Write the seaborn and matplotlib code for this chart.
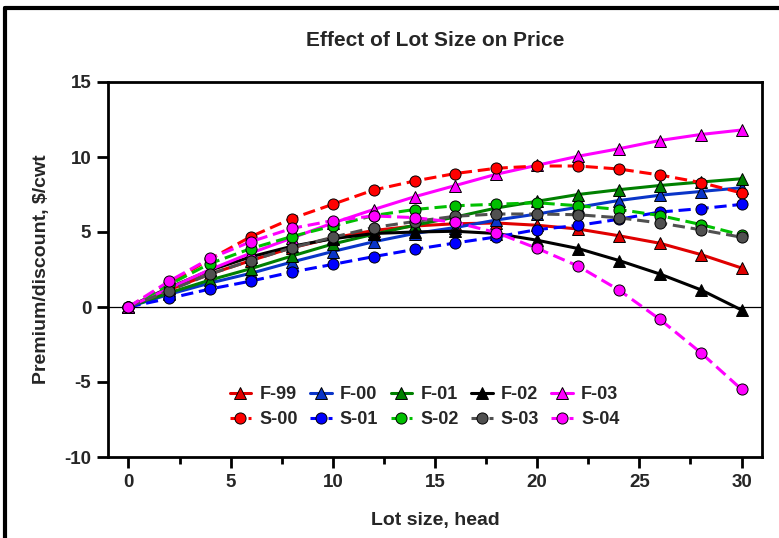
import numpy as np
import pandas as pd
import seaborn as sns
import matplotlib.pyplot as plt
from matplotlib.lines import Line2D

# lot size, head
lot = [0, 2, 4, 6, 8, 10, 12, 14, 16, 18, 20, 22, 24, 26, 28, 30]

# premium/discount, $/cwt
f99 = [0, 1.15, 2.2, 3.1, 3.95, 4.6, 5.1, 5.4, 5.55, 5.6, 5.45, 5.2, 4.75, 4.25, 3.5, 2.6]
f00 = [0, 0.85, 1.6, 2.25, 3.0, 3.7, 4.35, 4.9, 5.3, 5.8, 6.2, 6.65, 7.1, 7.45, 7.7, 7.95]
f01 = [0, 0.95, 1.8, 2.56, 3.4, 4.2, 4.85, 5.45, 6.0, 6.6, 7.05, 7.5, 7.82, 8.1, 8.33, 8.55]
f02 = [0, 1.3, 2.45, 3.35, 4.05, 4.55, 4.9, 5.0, 5.05, 4.9, 4.45, 3.9, 3.1, 2.2, 1.15, -0.2]
f03 = [0, 1.25, 2.5, 3.6, 4.6, 5.6, 6.5, 7.35, 8.1, 8.85, 9.45, 10.05, 10.55, 11.1, 11.5, 11.8]
s00 = [0, 1.6, 3.2, 4.7, 5.9, 6.85, 7.8, 8.4, 8.9, 9.25, 9.4, 9.4, 9.2, 8.8, 8.3, 7.6]
s01 = [0, 0.58, 1.2, 1.73, 2.33, 2.84, 3.36, 3.84, 4.27, 4.67, 5.16, 5.44, 5.85, 6.33, 6.56, 6.84]
s02 = [0, 1.5, 2.9, 3.9, 4.7, 5.4, 6.1, 6.5, 6.75, 6.85, 6.95, 6.75, 6.5, 6.1, 5.5, 4.8]
s03 = [0, 1.1, 2.2, 3.1, 3.95, 4.65, 5.3, 5.7, 6.05, 6.2, 6.2, 6.15, 5.95, 5.6, 5.15, 4.65]
s04 = [0, 1.73, 3.24, 4.36, 5.24, 5.76, 6.07, 5.96, 5.64, 4.96, 3.91, 2.73, 1.13, -0.82, -3.04, -5.49]

names = ['F-99', 'F-00', 'F-01', 'F-02', 'F-03', 'S-00', 'S-01', 'S-02', 'S-03', 'S-04']
series = [f99, f00, f01, f02, f03, s00, s01, s02, s03, s04]
colors = ['#e00000', '#0a35c8', '#008000', '#000000', '#ff00ff',
          '#ff0000', '#0000ff', '#00c000', '#505050', '#ff00ff']

rows = []
for n, s in zip(names, series):
    for x, y in zip(lot, s):
        rows.append((n, x, y))
df = pd.DataFrame(rows, columns=['series', 'lot', 'value'])

palette = dict(zip(names, colors))
markers = {n: ('^' if n.startswith('F') else 'o') for n in names}
dashes = {n: ('' if n.startswith('F') else (4.0, 1.9)) for n in names}

sns.set_style('white')
plt.rcParams['font.family'] = ['Liberation Sans', 'DejaVu Sans']
plt.rcParams['font.weight'] = 'bold'
plt.rcParams['axes.unicode_minus'] = False

fig = plt.figure(figsize=(7.79, 5.38), dpi=100)
ax = fig.add_axes([108/779, 1-457/538, (762-108)/779, (457-82)/538])

ax.axhline(0, color='black', lw=0.9, zorder=1)

sns.lineplot(data=df, x='lot', y='value', hue='series', style='series',
             palette=palette, markers=markers, dashes=dashes, ax=ax,
             lw=2.2, markersize=8, markeredgecolor='black', markeredgewidth=0.7,
             legend='full', zorder=3)

ax.set_xlim(-1, 31)
ax.set_ylim(-10, 15)
ax.set_xticks([0, 5, 10, 15, 20, 25, 30])
ax.set_xticks(np.arange(2.5, 30, 5), minor=True)
ax.set_yticks([-10, -5, 0, 5, 10, 15])

for sp in ax.spines.values():
    sp.set_linewidth(2.0)
    sp.set_color('black')

ax.tick_params(axis='both', which='major', direction='out', length=8, width=2,
               labelsize=13.5, pad=4, color='black', bottom=True, left=True)
ax.tick_params(axis='x', which='minor', direction='out', length=5, width=2,
               color='black', bottom=True)
for lab in ax.get_xticklabels() + ax.get_yticklabels():
    lab.set_fontweight('bold')

ax.set_xlabel('Lot size, head', fontsize=14, fontweight='bold', labelpad=15)
ax.set_ylabel('Premium/discount, $/cwt', fontsize=14, fontweight='bold', labelpad=10)
ax.set_title('Effect of Lot Size on Price', fontsize=15, fontweight='bold', pad=26)

# legend: F series on top row, S series on bottom row
handles, labels = ax.get_legend_handles_labels()
hmap = dict(zip(labels, handles))
order = []
for i in range(5):
    order.append(names[i])
    order.append(names[i + 5])
ax.legend([hmap[n] for n in order], order, ncol=5, frameon=False,
          loc='center', bbox_to_anchor=(0.484, 0.133),
          prop={'size': 13, 'weight': 'bold'}, handlelength=1.2,
          handletextpad=0.45, columnspacing=0.68, labelspacing=0.45)

# outer frame of the figure (left and top edges)
fig.add_artist(Line2D([5/779, 5/779], [0, 1-8/538], color='black', lw=3,
                      transform=fig.transFigure))
fig.add_artist(Line2D([5/779, 1], [1-8/538, 1-8/538], color='black', lw=3,
                      transform=fig.transFigure))

fig.savefig('out.png', dpi=100)
